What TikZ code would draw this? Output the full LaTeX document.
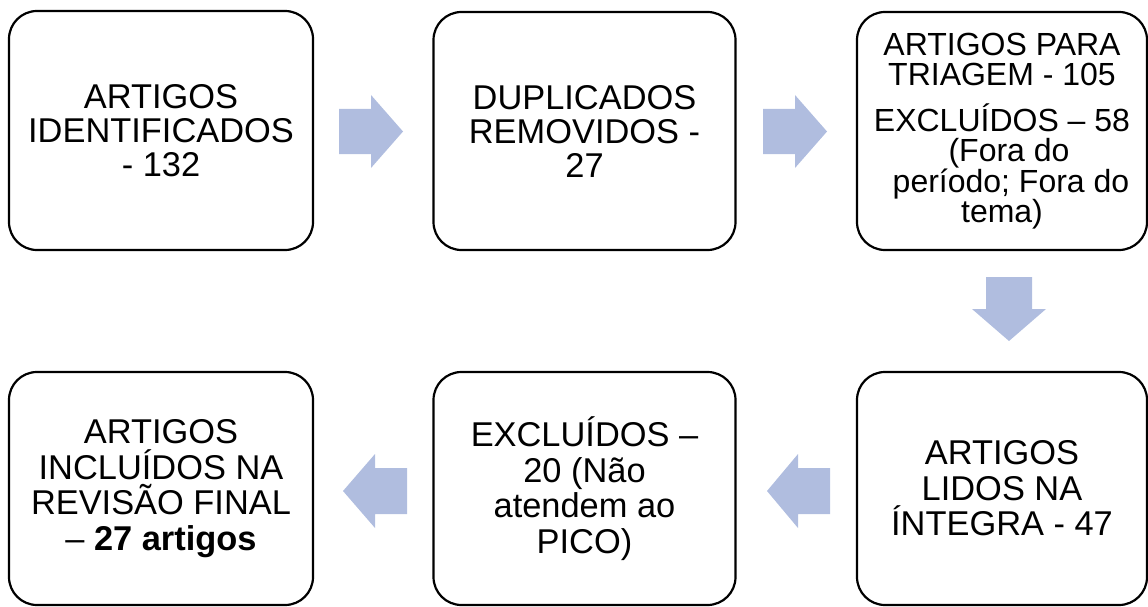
\documentclass[tikz,border=0pt]{standalone}
\usepackage{fontspec}
\setmainfont{Liberation Sans}
\definecolor{arrowblue}{RGB}{176,189,223}
\begin{document}
\begin{tikzpicture}[x=1pt,y=-1pt,
  stagebox/.style={draw=black,line width=2.2pt,rounded corners=28pt,fill=white,
    inner sep=0pt,align=center,font=\fontsize{34.4}{34}\selectfont},
  lowbox/.style={stagebox,font=\fontsize{34.4}{35.5}\selectfont},
  blockarrow/.style={fill=arrowblue,draw=none}]
\useasboundingbox (0,0) rectangle (1148,607);

\node[stagebox,minimum width=304pt,minimum height=239pt] (tl) at (161,130.5)
  {ARTIGOS\\IDENTIFICADOS\\- 132};
\node[stagebox,minimum width=302pt,minimum height=238pt] (tm) at (584.5,131)
  {DUPLICADOS\\REMOVIDOS -\\27};
\node[stagebox,minimum width=290pt,minimum height=238pt,
  font=\fontsize{32}{30.5}\selectfont] (tr) at (1002,131)
  {ARTIGOS PARA\\TRIAGEM - 105\\[15pt]EXCLUÍDOS – 58\\\hspace*{14pt}(Fora do\\\hspace*{18pt}período; Fora do\\tema)};

\node[lowbox,minimum width=304pt,minimum height=233pt] (bl) at (161,488.5)
  {ARTIGOS\\INCLUÍDOS NA\\REVISÃO FINAL\\– \textbf{27 artigos}};
\node[lowbox,minimum width=302pt,minimum height=233pt] (bm) at (584.5,488.5)
  {EXCLUÍDOS –\\20 (Não\\atendem ao\\PICO)};
\node[lowbox,minimum width=290pt,minimum height=233pt] (br) at (1002,488.5)
  {ARTIGOS\\LIDOS NA\\ÍNTEGRA - 47};

% right arrows (top row)
\fill[blockarrow] (339,109) -- (371,109) -- (371,95) -- (403,131.5) -- (371,168) -- (371,154) -- (339,154) -- cycle;
\fill[blockarrow] (763,109) -- (795,109) -- (795,95) -- (827,131.5) -- (795,168) -- (795,154) -- (763,154) -- cycle;
% down arrow
\fill[blockarrow] (986,277) -- (1032,277) -- (1032,309) -- (1046,309) -- (1009,341) -- (972,309) -- (986,309) -- cycle;
% left arrows (bottom row)
\fill[blockarrow] (830,468) -- (798,468) -- (798,454) -- (767,491) -- (798,528) -- (798,514) -- (830,514) -- cycle;
\fill[blockarrow] (407,468) -- (375,468) -- (375,454) -- (343,491) -- (375,528) -- (375,514) -- (407,514) -- cycle;
\end{tikzpicture}
\end{document}
